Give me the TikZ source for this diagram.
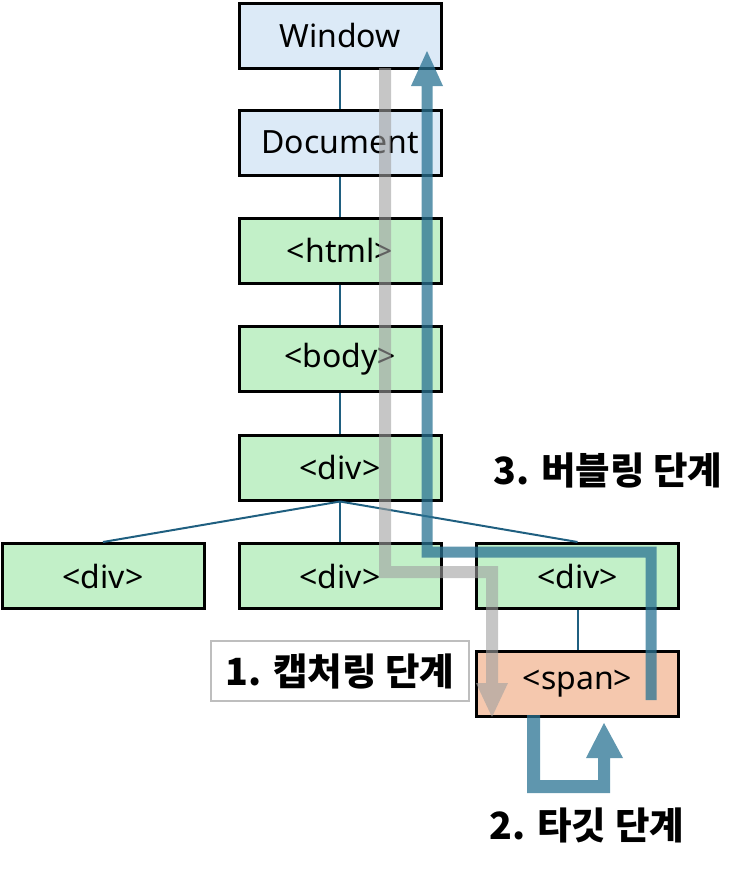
\documentclass[tikz,border=0pt]{standalone}
\usepackage{fontspec}
\setmainfont{Noto Sans}
\newfontfamily\kr{Noto Sans CJK KR}
\definecolor{winblue}{HTML}{DCEAF7}
\definecolor{elgreen}{HTML}{C2F0C8}
\definecolor{spanfill}{HTML}{F5C8AE}
\definecolor{connc}{HTML}{1F5F80}
\definecolor{bubc}{HTML}{2A7393}
\definecolor{capc}{HTML}{A0A0A0}
\definecolor{lblgray}{HTML}{BEBEBE}
\tikzset{
  elbox/.style={draw=black, line width=3pt, minimum width=202pt, minimum height=65pt, inner sep=0pt, font=\fontsize{32}{38}\selectfont},
  winbox/.style={elbox, fill=winblue},
  grbox/.style={elbox, fill=elgreen},
  spbox/.style={elbox, fill=spanfill},
  conn/.style={draw=connc, line width=2pt},
  phase/.style={font=\kr\bfseries\fontsize{37.5}{42}\selectfont, inner sep=0pt},
  capture/.style={fill=capc, fill opacity=0.6},
  bubble/.style={fill=bubc, fill opacity=0.75}
}
\begin{document}
\begin{tikzpicture}[x=1pt, y=-1pt]
\useasboundingbox (0,0) rectangle (752,870);
% element boxes
\node[winbox] (win) at (340,35.5) {Window};
\node[winbox] (doc) at (340,142.5) {Document};
\node[grbox] (html) at (340,250.5) {<html>};
\node[grbox] (body) at (340,359) {<body>};
\node[grbox] (div) at (340,467.5) {<div>};
\node[grbox] (d1) at (103,576) {<div>};
\node[grbox] (d2) at (340,576) {<div>};
\node[grbox] (d3) at (577.5,576) {<div>};
\node[spbox] (span) at (577.5,684) {<span>};
% connectors
\draw[conn] (win.south) -- (doc.north);
\draw[conn] (doc.south) -- (html.north);
\draw[conn] (html.south) -- (body.north);
\draw[conn] (body.south) -- (div.north);
\draw[conn] (div.south) -- (d1.north);
\draw[conn] (div.south) -- (d2.north);
\draw[conn] (div.south) -- (d3.north);
\draw[conn] (d3.south) -- (span.north);
% phase labels
\node[phase, draw=lblgray, line width=2pt, minimum width=258pt, minimum height=60pt] (lcap) at (340,671) {1. 캡처링 단계};
\node[phase] (ltgt) at (587,825) {2. 타깃 단계};
\node[phase] (lbub) at (608,470) {3. 버블링 단계};
% capturing arrow
\fill[capture] (379,68) -- (379,578) -- (486,578) -- (486,683) -- (476,683) -- (492,717) -- (508,683) -- (498,683) -- (498,566) -- (391,566) -- (391,68) -- cycle;
% bubbling arrow
\fill[bubble] (645.5,700) -- (656.5,700) -- (656.5,546.5) -- (432.5,546.5) -- (432.5,86) -- (443,86) -- (427,51) -- (411,86) -- (421.5,86) -- (421.5,557.5) -- (645.5,557.5) -- cycle;
% target arrow
\fill[bubble] (527,715) -- (527,793) -- (610,793) -- (610,758) -- (623,758) -- (604,723) -- (586,758) -- (598,758) -- (598,780) -- (540,780) -- (540,715) -- cycle;
\end{tikzpicture}
\end{document}
